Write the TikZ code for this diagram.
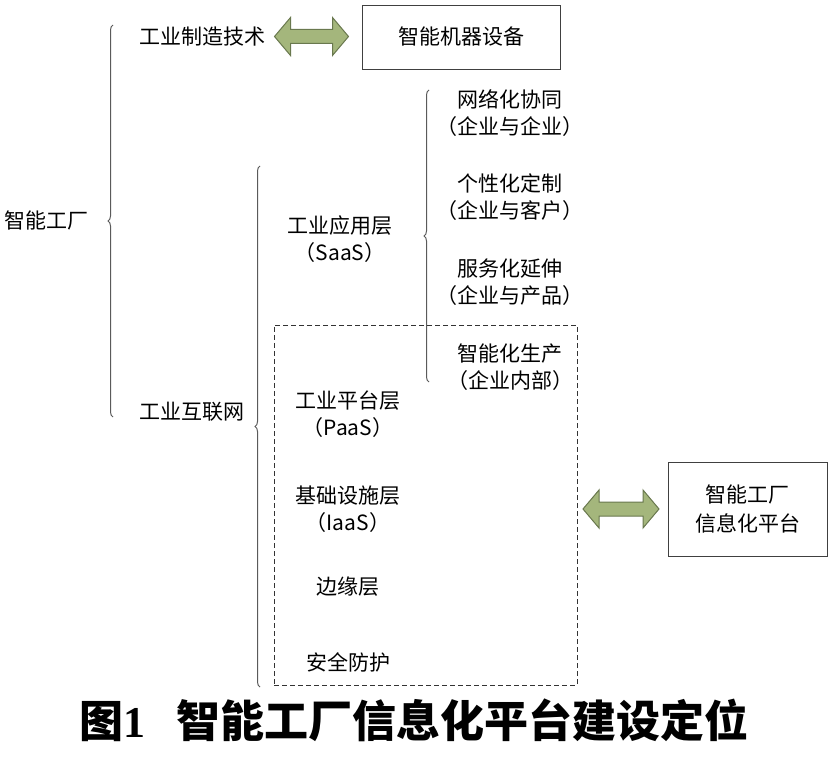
\documentclass[tikz,border=0pt]{standalone}
\usepackage{fontspec}
\setmainfont{Noto Sans CJK SC}
\newfontfamily\serifb{Liberation Serif}
\usetikzlibrary{decorations.pathreplacing}
\definecolor{arrfill}{RGB}{164,182,124}
\definecolor{arrdraw}{RGB}{105,120,78}
\definecolor{bracecol}{RGB}{90,90,90}
\tikzset{
  lbl/.style={inner sep=0pt,align=center,font=\fontsize{21}{27}\selectfont},
  bbox/.style={draw=black!75,line width=0.9pt,inner sep=0pt},
  blockarrow/.style={draw=arrdraw,fill=arrfill,line width=1pt,line join=miter},
  mybrace/.style={draw=bracecol,line width=1pt,decorate,
    decoration={brace,amplitude=5pt,aspect=0.5}}
}
\newcommand{\dblarrow}[2]{% #1 = centre name, #2 = half length
  \path[blockarrow] ($(#1)+(-#2,0)$) -- ++(16,-19) -- ++(0,12) -- ($(#1)+(#2-16,-7)$)
    -- ++(0,-12) -- ($(#1)+(#2,0)$) -- ++(-16,19) -- ++(0,-12) -- ($(#1)+(-#2+16,7)$)
    -- ++(0,12) -- cycle;}
\usetikzlibrary{calc}
\begin{document}
\begin{tikzpicture}[x=1pt,y=-1pt]
\useasboundingbox (0,0) rectangle (836,762);
% braces
\coordinate (b1t) at (113,25);   \coordinate (b1b) at (113,417);
\coordinate (b2t) at (260,166);  \coordinate (b2b) at (260,687);
\coordinate (b3t) at (429,90);   \coordinate (b3b) at (429,382);
\draw[mybrace] (b1b) -- (b1t);
\draw[mybrace] (b2b) -- (b2t);
\draw[mybrace] (b3b) -- (b3t);
% level 1
\node[lbl] (zn) at (47,220) {智能工厂};
\node[lbl] (zz) at (202,37) {工业制造技术};
\node[lbl] (hl) at (192,412) {工业互联网};
% top box and arrow
\node[bbox,minimum width=198pt,minimum height=64pt] (jq) at (461,37) {\fontsize{21}{27}\selectfont 智能机器设备};
\coordinate (a1) at (311.5,36.5);
\dblarrow{a1}{37}
% dashed box
\node[draw=black!80,dashed,dash pattern=on 5pt off 3pt,line width=0.9pt,inner sep=0pt,
  minimum width=303pt,minimum height=360pt] (db) at (425.5,505) {};
% layers
\node[lbl] (saas) at (340,239.5) {工业应用层\\（SaaS）};
\node[lbl] (paas) at (348,414.5) {工业平台层\\（PaaS）};
\node[lbl] (iaas) at (348,509) {基础设施层\\（IaaS）};
\node[lbl] (edge) at (348,587) {边缘层};
\node[lbl] (safe) at (348,662) {安全防护};
% applications
\node[lbl] (r1) at (510,113) {网络化协同\\（企业与企业）};
\node[lbl] (r2) at (510,197.5) {个性化定制\\（企业与客户）};
\node[lbl] (r3) at (510,282.5) {服务化延伸\\（企业与产品）};
\node[lbl] (r4) at (510,367.5) {智能化生产\\（企业内部）};
% right box and arrow
\node[bbox,minimum width=159pt,minimum height=94pt,align=center,font=\fontsize{21}{29}\selectfont] (pt) at (747.5,509) {智能工厂\\信息化平台};
\coordinate (a2) at (621,509);
\dblarrow{a2}{38}
% title
\node[inner sep=0pt,font=\fontsize{44}{50}\selectfont\bfseries] (title) at (414,720)
  {图{\serifb\bfseries 1}\hspace{0.7em}智能工厂信息化平台建设定位};
\end{tikzpicture}
\end{document}
